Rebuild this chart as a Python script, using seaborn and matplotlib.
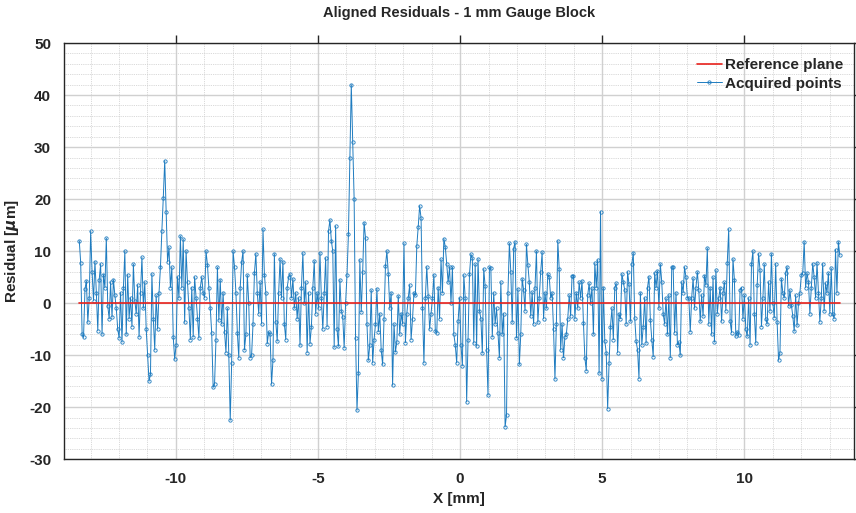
import matplotlib
matplotlib.use("Agg")
import matplotlib.pyplot as plt
import numpy as np
import seaborn as sns
from matplotlib.ticker import MultipleLocator

# scan range along X [mm]
x_start, x_end = -13.4, 13.36

# residuals, roughly 20 samples per mm
residual = [
    # -13.4 .. -13
    12, 7.8, -6, -6.6, 2.7, 4.3, -3.7, 1,
    # -13 .. -12
    13.8, 6, 0.5, 8, 2, -5.3, 4.5, 7.5, -6, 5.5, 3, 12.5, -0.5, -3, 4, -2.7, 4.5, 1.5, -1, -5,
    # -12 .. -11
    -6.7, 2, -7.5, 3, 10, -6, 5.5, -3, 1, -4.5, 7.5, 0.5, -2, 3.5, -6.5, 2, 8.8, -1, 4, -5,
    # -11 .. -10
    -10, -15, -13.7, 5.6, -3, -9, 1.5, -5, 2, 6.9, 13.9, 20.3, 27.4, 17.5, 8, 10.7, 3, 6.9, -6.6, -10.8,
    # -10 .. -9
    -8, 5, 1, 12.9, 3, 12.3, -3.7, 10, 4, -1, -7, 3, -6.5, 5, 1, -3, -6.7, 3, 5, 2,
    # -9 .. -8
    1, 10, 7.4, 3, -1, -5.8, -16.2, -15.5, -7, 6.9, -3.3, 4.5, -4, 2, -5.5, -9.5, -1, -10, -22.5, -11.5,
    # -8 .. -7
    10, 7, 2, -5.7, -10.5, 3, 7.9, 10, -9, -6, 5.4, 0, -10.5, -10, -4, 5.8, 9.5, 2, -2, 4,
    # -7 .. -6
    -4, 14.2, 5.5, 2, -7.8, -5.5, -6, -15.6, -11, 9.5, -3.6, -7.3, 2, 8.5, 1, 8, -4, -7, 3, 5,
    # -6 .. -5
    5.6, 1, 4.7, -1, 2, -3, 1, -8.1, 3, 9.6, 0, 4, -9.5, 2, -7.8, -4.5, 3, 8.1, -2, 2,
    # -5 .. -4
    -1, 9.7, 1, -5, 2, 8.7, -4.5, 13.8, 16, 12, 10, -8.5, 14.8, -5, -8.3, 4.5, -1.5, -2.6, -8.6, 0,
    # -4 .. -3
    5.5, 13.3, 28, 42, 31, 20, -6.7, -20.6, -13.4, 8.3, -1.7, 6, 15.5, 12.5, -4, -11, -8, 2.5, -11.5, -7,
    # -3 .. -2
    -4, 2.8, -5.5, -2, -9, -11.8, -3, 7.2, 10, 5.6, -1, 2, -15.8, -4, -9.4, -7.4, 1.4, -6, -2, -4,
    # -2 .. -1
    11.5, -7.6, -2, 1, 3.5, -7, -3, 2, 1.5, 11, 14.7, 18.7, 16.3, -1, -11.5, 1, 7, 1.3, -5, -2,
    # -1 .. 0
    1, 5.5, -5.4, -5.8, 3, -3, 8.4, 2, 12.4, 10.8, 7.6, 4, 6.9, 0, 6.9, -6, -8, -11.5, -3.5, 1,
    # 0 .. 1
    -8, -12, 5.4, 1, -19, -7, 5.6, 9.4, 8.6, -7.7, 7.5, -8.3, 8.5, -1.5, -3, -9.6, 6.6, 3.2, -9, -17.7,
    # 1 .. 2
    6.9, 6.7, -6.5, 2, -4, -1, -5.7, -10.5, 4, -6, -2, -23.8, -21.5, 2, 11.5, 6, -3.7, 10.5, 11.8, -6.7,
    # 2 .. 3
    2.8, -11.8, -6, 4.7, 2.5, -1.5, 11.3, 7.3, 4, -2.5, 2.1, -4, 3, 10, -3.7, 1, 6, 9.8, -3, 2,
    # 3 .. 4
    -1, 5.6, 5, 1, 2, -5, -14.6, -4, 12, 6.5, -9, -4, -10.5, -6.5, -6, -3, 1.5, -2.5, 5.3, 5.3,
    # 4 .. 5
    -3, 2, -1, 4, 1, 4.3, -3.8, -10.5, -13, 1.5, 3.8, 0, 3, -6, 7.7, 3, 8.3, -13.5, 17.6, -14.5,
    # 5 .. 6
    3, -7.3, -9.5, -20.3, -11.5, -4.5, -1, -7, 3, 3.8, -9.5, -2, -3, 5.6, 4, 2.5, -4, 6, 3.6, -3.5,
    # 6 .. 7
    7.5, 9.7, -2.8, -7.3, -9, -14.5, 2, -8, -4.5, 1, -7.7, 3, 5.1, -3.3, -7, -10.3, 5.8, 3, 6.2, -1,
    # 7 .. 8
    7.5, 4, -2, -4, 1, -6, 1.5, -10.5, 6.9, 7, -5.7, 2, -8, -7.5, -10, 4, 2, 6.9, 5, 1,
    # 8 .. 9
    1, -5.5, 1, 4.8, -1, 3, 6, 2.5, -3.5, 1.5, -2.5, 5.3, 3.5, 10.6, -4, 3, -6, 5, -7.5, 6.3,
    # 9 .. 10
    -2, 1, 3, -3.5, 2, 4, -1.5, 7.8, 14.2, -3.5, -5.7, 8.5, 4.5, -6.4, -5.5, -6.2, 2.6, 3, -3, 1.5,
    # 10 .. 11
    -5, -6.4, 1, -8, 7.5, 10, -2, -7.7, 3.5, 9.5, 6.3, -4.5, 1, 7.5, -3, -4, 4, -1.5, 9.5, 0,
    # 11 .. 12
    -2.8, 7.6, -3.7, -11, -9.5, 4.7, 2, 1, 5.8, 7, -0.5, 2.5, -0.3, -2.5, -5.4, 1.5, -4.3, 0, 2, 5.4,
    # 12 .. 13
    5.8, 11.8, 3, 5.8, 4, -2, 3, 7.6, 5, 1, 7.8, 2, -3.6, 1, 7.6, -1.5, 3.8, 2, 5.8, -2,
    # 13 .. 13.36
    6.7, -2, -3, 10.3, 2, 11.8, 9.2,
]

x_pos = np.linspace(x_start, x_end, len(residual))
plane_x = [x_start, x_end]
plane_y = [0, 0]

sns.set_style("white")
plt.rcParams['font.family'] = ['Liberation Sans', 'DejaVu Sans']
plt.rcParams['font.weight'] = 'bold'
plt.rcParams['axes.unicode_minus'] = False

fig = plt.figure(figsize=(8.56, 5.13), dpi=100)
ax = fig.add_axes([0.075, 0.105, 0.923, 0.811])

sns.lineplot(x=plane_x, y=plane_y, ax=ax, color='#e8211c', linewidth=1.2,
             label='Reference plane', zorder=3)
sns.lineplot(x=x_pos, y=residual, ax=ax, sort=False, color='#1f7cc0', linewidth=0.7,
             marker='o', markersize=2.4, markerfacecolor='none', markeredgewidth=0.6,
             markeredgecolor='#1f7cc0', label='Acquired points', zorder=2)

ax.set_xlim(-13.93, 13.87)
ax.set_ylim(-30, 50)
ax.xaxis.set_major_locator(MultipleLocator(5))
ax.xaxis.set_minor_locator(MultipleLocator(1))
ax.yaxis.set_major_locator(MultipleLocator(10))
ax.yaxis.set_minor_locator(MultipleLocator(2))
ax.grid(which='major', color='#d0d0d0', linewidth=1.0, linestyle='-')
ax.grid(which='minor', color='#cccccc', linewidth=0.6, linestyle=(0, (1, 1.2)))
ax.set_axisbelow(True)

ax.tick_params(which='major', direction='out', length=6, width=1.0, colors='#262626',
               labelsize=11, top=True, right=True)
ax.tick_params(which='minor', length=0)
for lab in ax.get_xticklabels() + ax.get_yticklabels():
    lab.set_fontweight('bold')
for sp in ax.spines.values():
    sp.set_color('#262626')
    sp.set_linewidth(1.0)

ax.set_title('Aligned Residuals - 1 mm Gauge Block', fontsize=10.5, fontweight='bold', pad=19)
ax.set_xlabel('X [mm]', fontsize=11, fontweight='bold', labelpad=4)
ax.set_ylabel(r'Residual [$\mu$m]', fontsize=11, fontweight='bold', labelpad=6)

leg = ax.legend(loc='upper right', bbox_to_anchor=(1.003, 0.997), frameon=False, fontsize=11,
                handlelength=1.6, handletextpad=0.2, borderaxespad=0.5, labelspacing=0.3)
for t in leg.get_texts():
    t.set_fontweight('bold')

fig.savefig('out.png', dpi=100)
